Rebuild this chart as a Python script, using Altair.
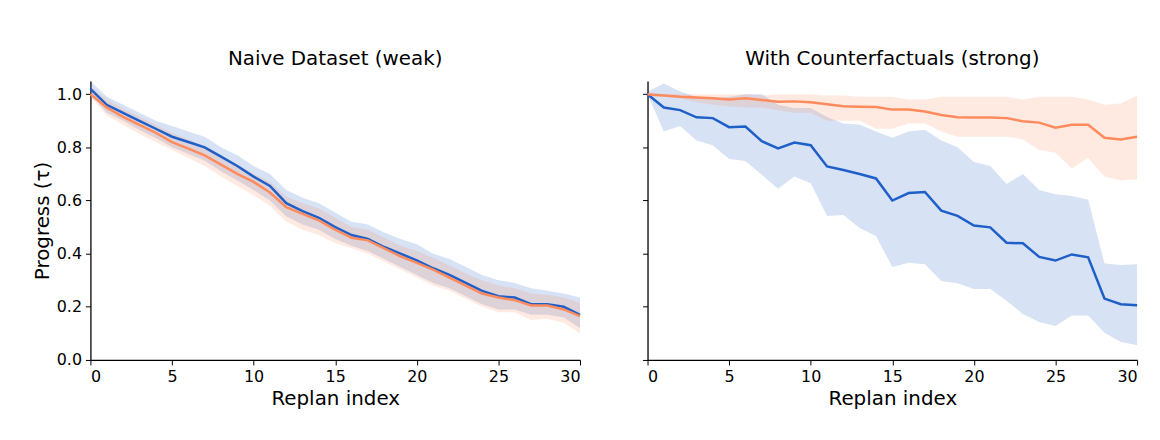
import altair as alt
import pandas as pd

x = list(range(31))
# Naive Dataset (weak)
l_orig = [1.02,0.96,0.93,0.9,0.87,0.84,0.82,0.8,0.765,0.73,0.69,0.655,0.59,0.56,0.535,0.50,0.47,0.455,0.425,0.40,0.375,0.345,0.32,0.29,0.26,0.24,0.235,0.21,0.21,0.20,0.17]
l_orig_hi = [1.05,0.99,0.96,0.93,0.90,0.88,0.86,0.84,0.80,0.77,0.73,0.70,0.64,0.61,0.59,0.555,0.52,0.51,0.48,0.455,0.435,0.40,0.38,0.35,0.32,0.30,0.29,0.27,0.26,0.25,0.235]
l_orig_lo = [1.0,0.93,0.90,0.865,0.835,0.80,0.775,0.75,0.71,0.675,0.64,0.60,0.54,0.51,0.49,0.455,0.43,0.41,0.38,0.35,0.32,0.29,0.27,0.24,0.21,0.19,0.19,0.17,0.17,0.16,0.12]
l_swap = [1.0,0.95,0.915,0.885,0.855,0.82,0.795,0.77,0.735,0.70,0.67,0.63,0.575,0.55,0.525,0.49,0.46,0.45,0.42,0.39,0.365,0.34,0.31,0.28,0.25,0.235,0.225,0.205,0.205,0.19,0.165]
l_swap_hi = [1.03,0.98,0.945,0.915,0.885,0.855,0.83,0.805,0.77,0.735,0.70,0.67,0.615,0.59,0.57,0.535,0.50,0.49,0.46,0.43,0.41,0.385,0.355,0.325,0.30,0.28,0.27,0.25,0.245,0.235,0.215]
l_swap_lo = [0.99,0.92,0.885,0.85,0.82,0.79,0.76,0.73,0.69,0.655,0.62,0.58,0.52,0.49,0.47,0.44,0.42,0.40,0.37,0.34,0.31,0.28,0.26,0.23,0.20,0.18,0.18,0.15,0.155,0.14,0.10]
# With Counterfactuals (strong)
r_orig = [1.0,0.95,0.94,0.913,0.91,0.876,0.878,0.823,0.796,0.818,0.808,0.728,0.715,0.70,0.683,0.60,0.628,0.632,0.562,0.542,0.506,0.499,0.441,0.439,0.388,0.374,0.397,0.386,0.231,0.21,0.206]
r_orig_lo = [1.0,0.86,0.88,0.826,0.808,0.756,0.749,0.697,0.644,0.69,0.665,0.542,0.545,0.497,0.466,0.35,0.366,0.36,0.297,0.289,0.267,0.267,0.223,0.173,0.143,0.128,0.167,0.167,0.102,0.068,0.055]
r_orig_hi = [1.01,1.04,1.01,0.99,0.985,0.99,1.0,1.0,0.96,0.948,0.948,0.914,0.89,0.885,0.86,0.836,0.86,0.866,0.826,0.8,0.745,0.73,0.662,0.7,0.64,0.624,0.617,0.603,0.363,0.357,0.36]
r_swap = [1.0,0.995,0.99,0.988,0.985,0.98,0.985,0.978,0.972,0.973,0.97,0.962,0.955,0.953,0.952,0.942,0.942,0.935,0.922,0.913,0.912,0.912,0.91,0.898,0.893,0.874,0.885,0.885,0.836,0.83,0.84]
r_swap_lo = [0.99,0.99,0.985,0.97,0.96,0.955,0.95,0.95,0.94,0.93,0.93,0.90,0.90,0.90,0.87,0.87,0.89,0.89,0.86,0.84,0.84,0.84,0.84,0.83,0.79,0.78,0.72,0.76,0.69,0.675,0.68]
r_swap_hi = [1.0,1.0,1.0,1.0,1.0,1.0,1.0,0.995,1.0,1.0,1.0,0.995,0.995,0.99,0.99,0.99,0.98,0.98,0.99,0.99,0.99,0.99,0.99,0.98,0.99,0.99,0.99,0.98,0.96,0.965,0.995]

def frame(o, olo, ohi, s, slo, shi):
    rows = []
    for name, m, lo, hi in [("orig", o, olo, ohi), ("swap", s, slo, shi)]:
        for i in x:
            rows.append({"x": i, "series": name, "m": m[i], "lo": lo[i], "hi": hi[i]})
    return pd.DataFrame(rows)

colors = alt.Scale(domain=["orig", "swap"], range=["#1f5fc8", "#ff8a5c"])

def panel(df, title, first):
    xenc = alt.X("x:Q", scale=alt.Scale(domain=[0, 30], nice=False),
                 axis=alt.Axis(title="Replan index", values=[0, 5, 10, 15, 20, 25, 30]))
    yaxis = alt.Axis(title="Progress (τ)" if first else None, values=[0, 0.2, 0.4, 0.6, 0.8, 1.0],
                     format=".1f", labels=first)
    yscale = alt.Scale(domain=[0, 1.05], nice=False)
    base = alt.Chart(df)
    band = base.mark_area(opacity=0.18).encode(
        x=xenc, y=alt.Y("lo:Q", scale=yscale, axis=yaxis), y2="hi:Q",
        color=alt.Color("series:N", scale=colors, legend=None))
    line = base.mark_line(strokeWidth=2.5).encode(
        x=xenc, y=alt.Y("m:Q", scale=yscale, axis=yaxis),
        stroke=alt.Stroke("series:N", scale=colors,
                        legend=alt.Legend(title=None, orient="bottom-left", labelFontSize=20,
                                          symbolType="stroke", symbolStrokeWidth=3, symbolSize=700,
                                          rowPadding=8, offset=18, labelOffset=14)))
    return alt.layer(band, line).properties(
        width=493, height=281,
        title=alt.Title(title, fontSize=20, fontWeight="normal", offset=12))

left = panel(frame(l_orig, l_orig_lo, l_orig_hi, l_swap, l_swap_lo, l_swap_hi), "Naive Dataset (weak)", True)
right = panel(frame(r_orig, r_orig_lo, r_orig_hi, r_swap, r_swap_lo, r_swap_hi), "With Counterfactuals (strong)", False)

chart = alt.hconcat(left, right, spacing=57).resolve_scale(color="independent", stroke="independent").configure(
    font="DejaVu Sans"
).configure_view(stroke=None).configure_axis(
    grid=False, domainColor="black", tickColor="black", labelColor="black", titleColor="black",
    labelFontSize=16, titleFontSize=20, titleFontWeight="normal", domainWidth=1.3, tickSize=5,
    labelPadding=4
).properties(padding={"left": 24, "top": 40, "right": 10, "bottom": 5})

chart.save("out.html", embed_options={"renderer": "svg", "actions": False})
